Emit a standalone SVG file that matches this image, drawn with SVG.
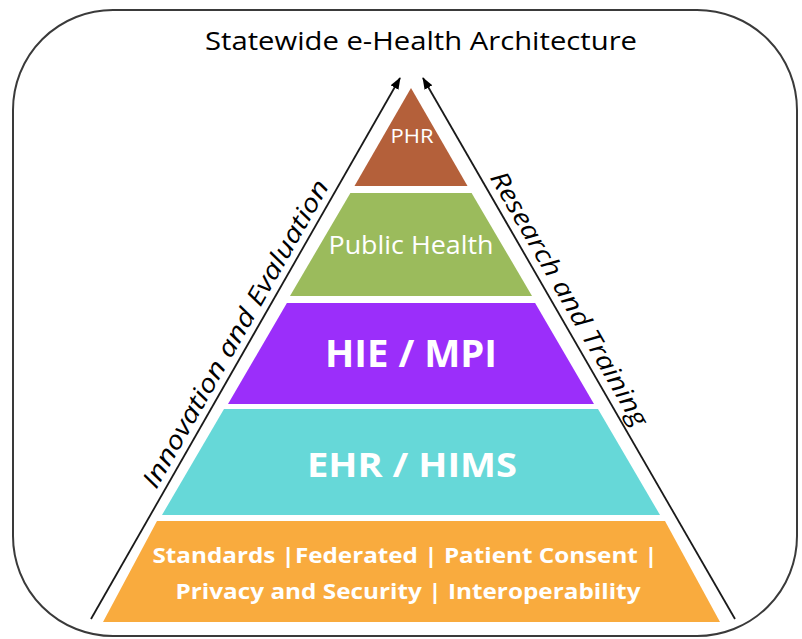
<svg xmlns="http://www.w3.org/2000/svg" width="802" height="639" viewBox="0 0 802 639">
  <style>
    .frame { fill: #ffffff; stroke: #3a3a3a; stroke-width: 2; }
    .conn { stroke: #1a1a1a; stroke-width: 1.8; fill: none; }
    .lbl { fill: #ffffff; font-family: "Open Sans", "Liberation Sans", sans-serif; text-anchor: middle; }
    .side { fill: #000000; font-family: "Open Sans", "Liberation Sans", sans-serif; font-style: italic; font-size: 25px; text-anchor: middle; }
    .title { fill: #000000; font-family: "Open Sans", "Liberation Sans", sans-serif; font-size: 25px; text-anchor: middle; }
  </style>
  <defs>
    <marker id="arrow" viewBox="0 0 12 9" refX="11" refY="4.5" markerWidth="12" markerHeight="9" orient="auto" markerUnits="userSpaceOnUse">
      <path d="M0,0 L12,4.5 L0,9 z" fill="#000000"/>
    </marker>
  </defs>
  <rect class="frame" x="13" y="10" width="784" height="626" rx="100" ry="100"/>
  <text class="title" x="421" y="50" textLength="432" lengthAdjust="spacingAndGlyphs">Statewide e-Health Architecture</text>

  <g id="layer-phr">
    <polygon points="411,88 467.5,186 354.5,186" fill="#B4603A"/>
    <text class="lbl" x="412" y="143" font-size="20" font-family="Liberation Sans, sans-serif" textLength="43" lengthAdjust="spacingAndGlyphs">PHR</text>
  </g>
  <g id="layer-public-health">
    <polygon points="350.4,193 471.6,193 532,296 290,296" fill="#9BBB5C"/>
    <text class="lbl" x="411" y="254" font-size="26" textLength="165" lengthAdjust="spacingAndGlyphs" fill="#F5F5E8">Public Health</text>
  </g>
  <g id="layer-hie-mpi">
    <polygon points="286.9,303 535.1,303 594,404 228,404" fill="#9B2EFA"/>
    <text class="lbl" x="411" y="367" font-size="37" font-weight="bold" textLength="172" lengthAdjust="spacingAndGlyphs">HIE / MPI</text>
  </g>
  <g id="layer-ehr-hims">
    <polygon points="224,409 598,409 660,515 162,515" fill="#66D8D8"/>
    <text class="lbl" x="412" y="477" font-size="34" font-weight="bold" textLength="210" lengthAdjust="spacingAndGlyphs">EHR / HIMS</text>
  </g>
  <g id="layer-standards">
    <polygon points="157,521 665,521 720,622 103,622" fill="#F9AB3E"/>
    <text class="lbl" x="405" y="563" font-size="22" font-weight="bold" textLength="505" lengthAdjust="spacingAndGlyphs">Standards |Federated | Patient Consent |</text>
    <text class="lbl" x="408" y="599" font-size="22" font-weight="bold" textLength="465" lengthAdjust="spacingAndGlyphs">Privacy and Security | Interoperability</text>
  </g>

  <g id="connectors">
    <line class="conn" x1="91" y1="619" x2="400" y2="78" marker-end="url(#arrow)"/>
    <line class="conn" x1="735" y1="619" x2="423" y2="78" marker-end="url(#arrow)"/>
  </g>

  <g id="side-labels">
    <text class="side" transform="translate(243,338) rotate(-60.3)" textLength="350" lengthAdjust="spacingAndGlyphs">Innovation and Evaluation</text>
    <text class="side" transform="translate(562,303) rotate(60)" textLength="290" lengthAdjust="spacingAndGlyphs">Research and Training</text>
  </g>
</svg>
